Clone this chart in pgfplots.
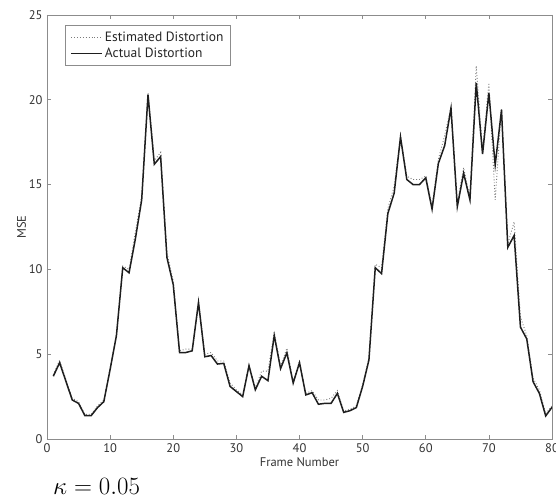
\documentclass[border=0pt]{standalone}
\usepackage{fontspec}
\setmainfont{PT Sans}
\usepackage{pgfplots}
\pgfplotsset{compat=1.18}
\usepackage{pgfplotstable}
\definecolor{axgray}{HTML}{8C8C8C}
\definecolor{linedark}{HTML}{1E1E1E}
\definecolor{dotgray}{HTML}{7A7A7A}
\pgfplotstableread{
x y
1 3.7
2 4.5
3 3.4
4 2.3
5 2.1
6 1.38
7 1.38
8 1.85
9 2.2
10 4.1
11 6.1
12 10.1
13 9.8
14 11.8
15 14.1
16 20.3
17 16.2
18 16.65
19 10.7
20 9.1
21 5.1
22 5.1
23 5.2
24 8.05
25 4.85
26 4.92
27 4.42
28 4.46
29 3.1
30 2.8
31 2.5
32 4.32
33 2.9
34 3.7
35 3.44
36 6.1
37 4.15
38 5.08
39 3.3
40 4.5
41 2.6
42 2.73
43 2.05
44 2.1
45 2.1
46 2.69
47 1.57
48 1.67
49 1.85
50 3.1
51 4.66
52 10.1
53 9.75
54 13.3
55 14.5
56 17.8
57 15.3
58 15.0
59 15.0
60 15.4
61 13.55
62 16.25
63 17.3
64 19.5
65 13.7
66 15.67
67 14.1
68 21.0
69 16.8
70 20.4
71 16.15
72 19.4
73 11.3
74 12.0
75 6.6
76 5.9
77 3.38
78 2.69
79 1.36
80 1.87
}\actual
\pgfplotstableread{
x y
1 3.8
2 4.65
3 3.5
4 2.4
5 2.2
6 1.45
7 1.45
8 1.95
9 2.3
10 4.2
11 6.2
12 10.2
13 10.0
14 12.2
15 14.3
16 20.4
17 16.4
18 16.9
19 11.0
20 9.3
21 5.2
22 5.3
23 5.3
24 8.1
25 5.0
26 5.1
27 4.6
28 4.6
29 3.3
30 2.9
31 2.6
32 4.4
33 3.0
34 4.0
35 4.0
36 6.3
37 4.3
38 5.35
39 3.4
40 4.6
41 2.7
42 2.85
43 2.3
44 2.3
45 2.4
46 2.85
47 1.65
48 1.75
49 1.95
50 3.2
51 4.8
52 10.3
53 10.1
54 13.6
55 14.9
56 17.9
57 15.5
58 15.3
59 15.3
60 15.5
61 13.7
62 16.5
63 17.9
64 19.6
65 13.9
66 16.0
67 14.2
68 22.0
69 17.0
70 21.0
71 14.1
72 19.5
73 11.5
74 12.8
75 7.2
76 6.1
77 3.6
78 2.9
79 1.5
80 1.95
}\estimated
\begin{document}
\begin{tikzpicture}
\begin{axis}[
  scale only axis,
  width=505pt, height=424pt,
  xmin=0, xmax=80, ymin=0, ymax=25,
  xtick={0,10,...,80}, ytick={0,5,...,25},
  tick align=inside,
  major tick length=4pt,
  axis line style={axgray, line width=0.8pt},
  every tick/.style={axgray, line width=0.6pt},
  tick label style={font=\fontsize{12.5}{14}\selectfont, text=black!80},
  /pgf/number format/assume math mode=true,
  xticklabel style={yshift=-1pt},
  yticklabel style={xshift=-1pt},
  xlabel={Frame Number},
  ylabel={MSE},
  label style={font=\fontsize{12.5}{14}\selectfont, text=black!80},
  xlabel style={yshift=2pt},
  ylabel style={yshift=-4pt},
  legend style={at={(rel axis cs:0.036,0.976)}, anchor=north west,
    draw=axgray, line width=0.6pt, font=\fontsize{13.5}{15}\selectfont,
    inner xsep=5pt, inner ysep=4pt, row sep=1.5pt, cells={anchor=west},
    text=black!85},
  legend cell align=left,
  legend image code/.code={\draw[#1] (0pt,0pt) -- (31pt,0pt);},
  clip=true,
]
\addplot[dotgray, line width=0.9pt, dotted] table[x=x,y=y] {\estimated};
\addlegendentry{Estimated Distortion}
\addplot[linedark, line width=1.5pt] table[x=x,y=y] {\actual};
\addlegendentry{Actual Distortion}
\coordinate (SW) at (rel axis cs:0,0);
\coordinate (NE) at (rel axis cs:1,1);
\end{axis}
\node[anchor=base west, inner sep=0pt] at ([shift={(6pt,-55pt)}]SW) {\fontsize{29}{32}\selectfont $\kappa = 0.05$};
\pgfresetboundingbox
\path[use as bounding box] ([shift={(-47pt,-59pt)}]SW) rectangle ([shift={(4pt,15pt)}]NE);
\end{tikzpicture}
\end{document}
